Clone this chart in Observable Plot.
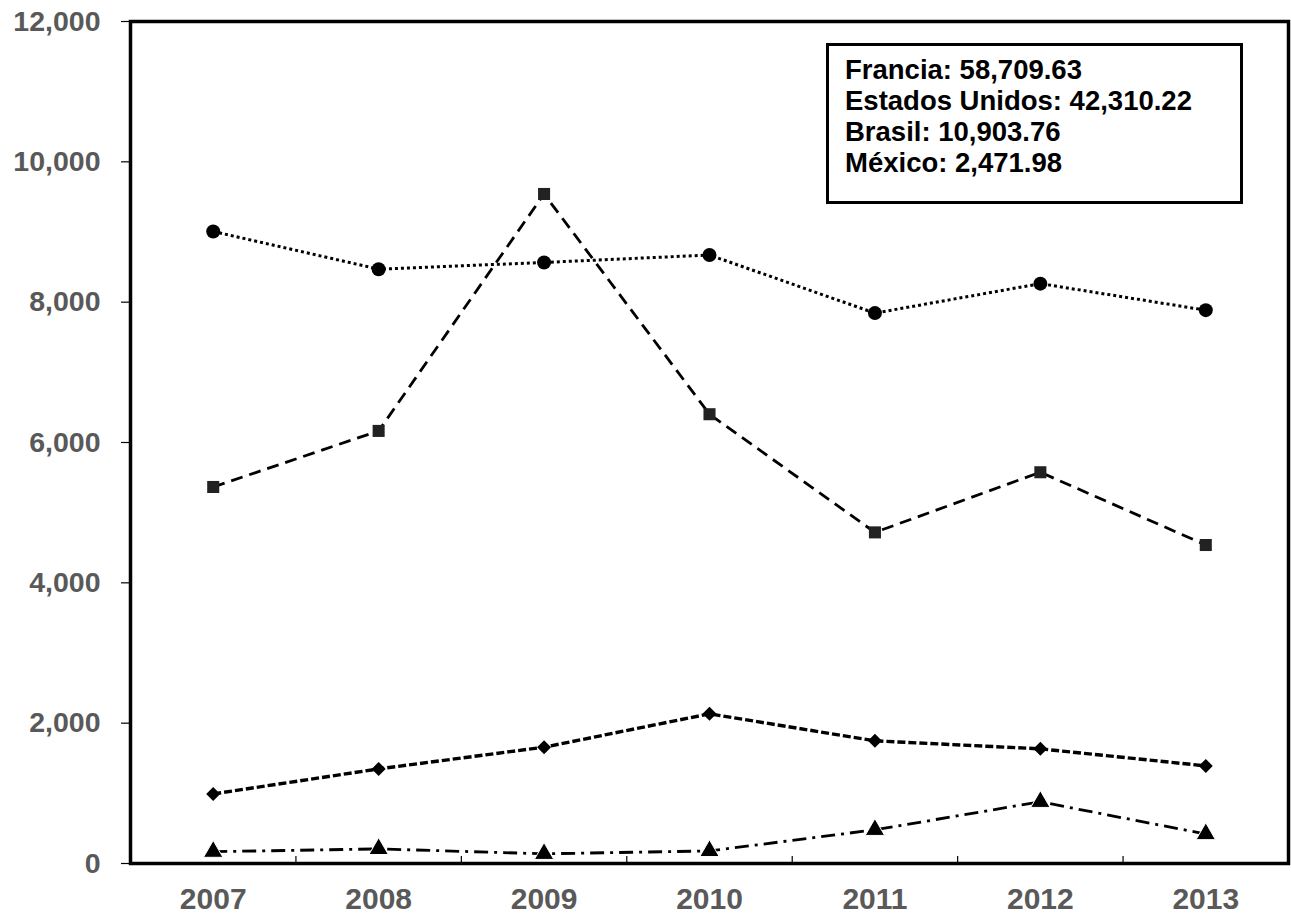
<!DOCTYPE html>
<html>
<head>
<meta charset="utf-8">
<script src="https://cdn.jsdelivr.net/npm/d3@7"></script>
<script src="https://cdn.jsdelivr.net/npm/@observablehq/plot@0.6"></script>
<style>
  html, body { margin: 0; padding: 0; background: #fff; }
  #wrap { position: relative; width: 1291px; height: 914px; font-family: "Liberation Sans", Arial, sans-serif; }
  #legend {
    position: absolute; left: 826px; top: 43px; width: 417px; height: 161px;
    border: 3.5px solid #000; background: #fff; box-sizing: border-box;
    padding: 8px 0 0 16px; font-weight: bold; font-size: 27.5px; line-height: 31px; color: #000;
    white-space: nowrap;
  }
</style>
</head>
<body>
<div id="wrap"><div id="legend"></div></div>
<script>
const years = [2007, 2008, 2009, 2010, 2011, 2012, 2013];
const francia = [9008, 8470, 8566, 8672, 7844, 8264, 7886];
const estadosUnidos = [5366, 6165, 9542, 6403, 4719, 5576, 4539];
const brasil = [992, 1348, 1658, 2133, 1748, 1634, 1391];
const mexico = [168, 208, 138, 179, 480, 879, 420];
const seriesNames = ["Francia", "Estados Unidos", "Brasil", "México"];
const totals = ["58,709.63", "42,310.22", "10,903.76", "2,471.98"];
const yTicks = [0, 2000, 4000, 6000, 8000, 10000, 12000];
const xBounds = [2007.5, 2008.5, 2009.5, 2010.5, 2011.5, 2012.5];

const values = [francia, estadosUnidos, brasil, mexico];
const styles = [
  {symbol: "circle", r: 7, fill: "#000", dash: "3,3", sw: 3, stroke: "none"},
  {symbol: "square", r: 6.8, fill: "#222", dash: "12,7", sw: 2.8, stroke: "none"},
  {symbol: "diamond2", r: 6.3, fill: "#000", dash: "8,3", sw: 3.4, stroke: "none"},
  {symbol: "triangle", r: 7.2, fill: "#000", dash: "14,6,3,6", sw: 2.8, stroke: "#fff"}
];

const data = seriesNames.flatMap((name, i) => years.map((year, j) => ({name, year, value: values[i][j]})));

const marks = [Plot.frame({stroke: "#000", strokeWidth: 3.5})];
seriesNames.forEach((name, i) => {
  const d = data.filter(e => e.name === name);
  const s = styles[i];
  marks.push(Plot.line(d, {x: "year", y: "value", stroke: "#000", strokeWidth: s.sw, strokeDasharray: s.dash, strokeLinecap: "butt", strokeLinejoin: "miter"}));
});
seriesNames.forEach((name, i) => {
  const d = data.filter(e => e.name === name);
  const s = styles[i];
  marks.push(Plot.dot(d, {x: "year", y: "value", symbol: () => s.symbol, r: s.r, fill: s.fill, stroke: s.stroke, strokeWidth: 1}));
});

const chart = Plot.plot({
  width: 1291,
  height: 914,
  marginLeft: 130,
  marginRight: 3,
  marginTop: 21,
  marginBottom: 51,
  style: {fontFamily: "'Liberation Sans', Arial, sans-serif", fontWeight: "bold", background: "#fff"},
  x: {domain: [2006.5, 2013.5], axis: null},
  y: {domain: [0, 12000], axis: null},
  symbol: {domain: ["circle", "square", "diamond2", "triangle"], range: ["circle", "square", "diamond2", "triangle"]},
  marks: [
    Plot.axisY(yTicks, {label: null, tickSize: 9, tickPadding: 21, tickFormat: d3.format(","), fontSize: 28.5, fill: "#595959", stroke: "#000", strokeWidth: 1.2}),
    Plot.axisX(years, {label: null, tickSize: 0, tickPadding: 24, tickFormat: d => String(d), fontSize: 30, fill: "#595959"}),
    Plot.axisX(xBounds, {label: null, tickSize: -7, tickFormat: () => "", stroke: "#000", strokeWidth: 1.2}),
    ...marks
  ]
});
document.getElementById("wrap").insertBefore(chart, document.getElementById("legend"));
document.getElementById("legend").innerHTML = seriesNames.map((n, i) => `<div>${n}: ${totals[i]}</div>`).join("");
</script>
</body>
</html>
